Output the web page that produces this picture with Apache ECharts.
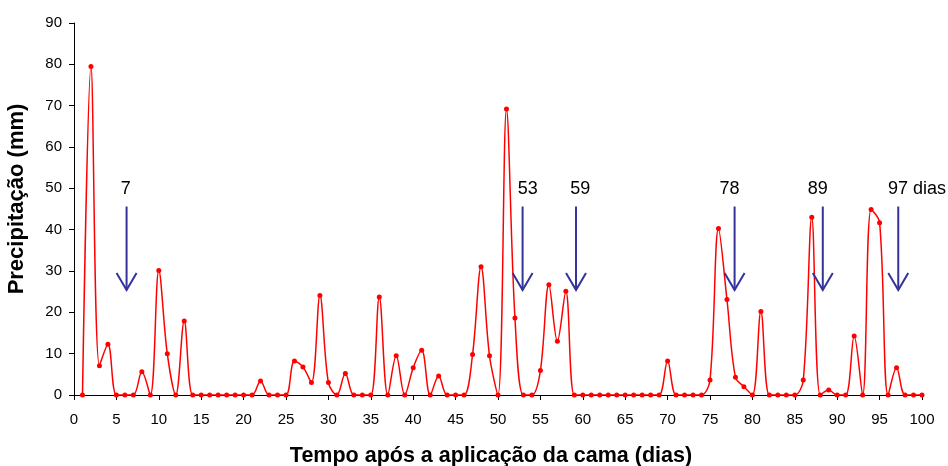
<!DOCTYPE html>
<html>
<head>
<meta charset="utf-8">
<script src="https://cdn.jsdelivr.net/npm/echarts@6/dist/echarts.min.js"></script>
<style>
html,body{margin:0;padding:0;background:#fff;}
#chart{width:948px;height:466px;}
</style>
</head>
<body>
<div id="chart"></div>
<script>
// Precipitation (mm) for days 1..100
const precip = [
  0, 79.5, 7.1, 12.3, 0, 0, 0, 5.6, 0, 30.1,
  10.0, 0, 17.9, 0, 0, 0, 0, 0, 0, 0,
  0, 3.4, 0, 0, 0, 8.2, 6.8, 3.0, 24.1, 3.0,
  0, 5.2, 0, 0, 0, 23.7, 0, 9.5, 0, 6.6,
  10.8, 0, 4.6, 0, 0, 0, 9.8, 31.0, 9.5, 0,
  69.2, 18.6, 0, 0, 5.9, 26.7, 13.0, 25.1, 0, 0,
  0, 0, 0, 0, 0, 0, 0, 0, 0, 8.2,
  0, 0, 0, 0, 3.6, 40.3, 23.1, 4.3, 2.0, 0,
  20.2, 0, 0, 0, 0, 3.6, 43.0, 0, 1.2, 0,
  0, 14.3, 0, 44.9, 41.7, 0, 6.6, 0, 0, 0
];
const days = precip.map((v, i) => i + 1);

// Arrow annotations
const arrowLabels = ['7', '53', '59', '78', '89', '97 dias'];
const arrowDays = [6.2, 52.9, 59.2, 77.9, 88.3, 97.2];
const labelDays = [6.1, 53.5, 59.7, 77.3, 87.7, 99.4];
const labelLevel = 49.9;
const arrowTop = 45.6;
const arrowTip = 25.4;

const xTicks = { min: 0, max: 100, interval: 5 };
const yTicks = { min: 0, max: 90, interval: 10 };

const FONT = "'Liberation Sans', Arial, sans-serif";
const chart = echarts.init(document.getElementById('chart'), null, { renderer: 'canvas' });

const option = {
  backgroundColor: '#ffffff',
  animation: false,
  grid: { left: 74, right: 26, top: 23, bottom: 71, containLabel: false, outerBoundsMode: 'none' },
  xAxis: {
    type: 'value',
    min: xTicks.min, max: xTicks.max, interval: xTicks.interval,
    name: 'Tempo após a aplicação da cama (dias)',
    nameLocation: 'middle',
    nameGap: 50,
    nameTextStyle: { fontFamily: FONT, fontWeight: 'bold', fontSize: 21.5, color: '#000', padding: [0, 14, 0, 0] },
    axisLine: { show: true, onZero: false, lineStyle: { color: '#000', width: 1 } },
    axisTick: { show: true, inside: false, length: 5, lineStyle: { color: '#000' } },
    axisLabel: { fontFamily: FONT, fontSize: 15, color: '#000', margin: 17 },
    splitLine: { show: false }
  },
  yAxis: {
    type: 'value',
    min: yTicks.min, max: yTicks.max, interval: yTicks.interval,
    name: 'Precipitação (mm)',
    nameLocation: 'middle',
    nameGap: 46,
    nameRotate: 90,
    nameTextStyle: { fontFamily: FONT, fontWeight: 'bold', fontSize: 22, color: '#000', padding: [0, 0, 0, 20] },
    axisLine: { show: true, lineStyle: { color: '#000', width: 1 } },
    axisTick: { show: true, inside: false, length: 5, lineStyle: { color: '#000' } },
    axisLabel: { fontFamily: FONT, fontSize: 15, color: '#000', margin: 12 },
    splitLine: { show: false }
  },
  series: [
    {
      type: 'line',
      data: days.map((d, i) => [d, precip[i]]),
      smooth: 0.35,
      symbol: 'circle',
      symbolSize: 5,
      lineStyle: { color: '#ff0000', width: 1.5 },
      itemStyle: { color: '#ff0000' },
      z: 3
    },
    {
      type: 'custom',
      data: arrowDays.map((d, i) => [d, i]),
      z: 4,
      clip: false,
      renderItem: function (params, api) {
        const x = api.value(0);
        const idx = api.value(1);
        const p0 = api.coord([x, arrowTop]);
        const p1 = api.coord([x, arrowTip]);
        const pl = api.coord([labelDays[idx], labelLevel]);
        const stroke = '#333399';
        return {
          type: 'group',
          children: [
            { type: 'line', shape: { x1: p0[0], y1: p0[1], x2: p1[0], y2: p1[1] },
              style: { stroke: stroke, lineWidth: 2 } },
            { type: 'polyline', shape: { points: [[p1[0] - 10, p1[1] - 17], [p1[0], p1[1]], [p1[0] + 10, p1[1] - 17]] },
              style: { stroke: stroke, lineWidth: 2, fill: null } },
            { type: 'text',
              style: { text: arrowLabels[idx], x: pl[0], y: pl[1],
                       align: 'center', verticalAlign: 'middle',
                       fontFamily: FONT, fontSize: 18, fill: '#000' } }
          ]
        };
      }
    }
  ]
};
chart.setOption(option);
</script>
</body>
</html>
